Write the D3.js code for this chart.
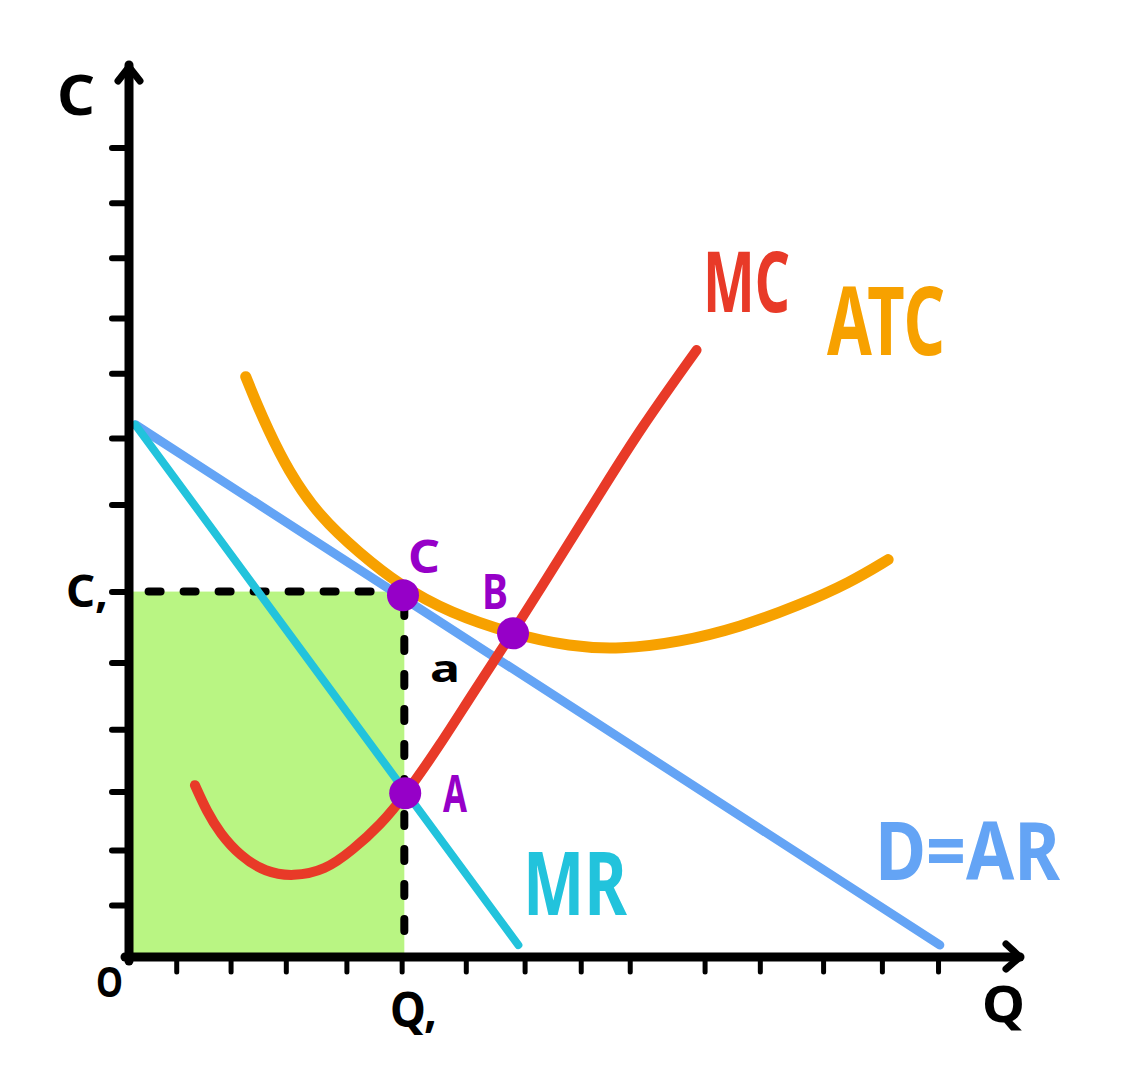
<!DOCTYPE html>
<html><head><meta charset="utf-8">
<script src="https://cdn.jsdelivr.net/npm/d3@7"></script>
<style>body{margin:0;background:#fff}</style>
</head><body>
<svg id="c" width="1130" height="1078"></svg>
<script>
// ---- data (units 0..100 on both axes) ----
const xTicks = [5.3, 11.4, 17.6, 24.4, 30.6, 37.8, 44.4, 50.7, 56.2, 64.6, 70.8, 77.9, 84.5, 90.8];
const yTicks = [5.4, 11.6, 18.2, 25.2, 32.7, 40.7, 50.5, 58.0, 65.3, 71.5, 78.3, 84.5, 90.7];
const Q1 = 30.9;
const C1 = 40.7;
const demandX = [0.7, 91.0];
const demandY = [59.5, 0.9];
const mrX = [0.7, 43.7];
const mrY = [59.5, 0.9];
const mcX = [7.4, 8.75, 10.2, 12.5, 15.3, 18.4, 22.0, 25.1, 28.2, 31.0, 34.9, 38.8, 43.1, 48.4, 52.9, 57.3, 63.7];
const mcY = [18.9, 15.9, 13.5, 10.9, 9.1, 8.6, 9.3, 11.6, 14.4, 17.8, 23.4, 29.6, 36.1, 44.6, 51.8, 58.9, 67.9];
const atcX = [13.1, 14.4, 15.5, 17.8, 21.4, 25.9, 30.4, 36.0, 43.1, 49.5, 55.1, 61.8, 68.6, 75.3, 80.9, 85.2];
const atcY = [64.9, 61.7, 59.2, 54.4, 49.1, 45.0, 41.4, 38.3, 35.9, 34.5, 34.2, 35.0, 36.7, 39.2, 41.7, 44.3];
const pointNames = ["C", "B", "A"];
const pointX = [30.75, 43.1, 31.0];
const pointY = [40.3, 36.0, 18.0];

// ---- drawing ----
const svg = d3.select("#c");
const x = d3.scaleLinear().domain([0, 100]).range([129, 1020]);
const y = d3.scaleLinear().domain([0, 100]).range([953, 65]);
const zip = (a, b) => a.map((v, i) => [v, b[i]]);
const line = d3.line().x(d => x(d[0])).y(d => y(d[1]));
const curve = d3.line().x(d => x(d[0])).y(d => y(d[1])).curve(d3.curveBasis);

const FONT = "'Noto Sans', sans-serif";
const COL = {green:"#b9f583", red:"#e83a28", orange:"#f7a100", cyan:"#22c3dc", blue:"#64a4f5", purple:"#9600c8"};

// green rectangle
svg.append("rect")
  .attr("x", x(0)).attr("y", y(C1))
  .attr("width", x(Q1) - x(0)).attr("height", y(0) + 4 - y(C1))
  .attr("fill", COL.green);

// dashed guides
const dash = {stroke:"#000", "stroke-width":8, "stroke-linecap":"round", "stroke-dasharray":"12,23", fill:"none"};
const hd = svg.append("path").attr("d", line([[2.2, C1], [pointX[0] - 1.3, C1]]));
const vd = svg.append("path").attr("d", line([[Q1, pointY[0] - 1.0], [Q1, 0]]));
[hd, vd].forEach(p => Object.entries(dash).forEach(([k, v]) => p.attr(k, v)));

// curves
function stroke(p, c, w) { return p.attr("fill", "none").attr("stroke", c).attr("stroke-width", w).attr("stroke-linecap", "round").attr("stroke-linejoin", "round"); }
stroke(svg.append("path").attr("d", line(zip(demandX, demandY))), COL.blue, 9);
stroke(svg.append("path").attr("d", line(zip(mrX, mrY))), COL.cyan, 8);
stroke(svg.append("path").attr("d", curve(zip(atcX, atcY))), COL.orange, 11);
stroke(svg.append("path").attr("d", curve(zip(mcX, mcY))), COL.red, 10);

// axes
const xa = svg.append("g").attr("transform", `translate(0,${y(0) + 4})`)
  .call(d3.axisBottom(x).tickValues(xTicks).tickFormat("").tickSizeInner(15).tickSizeOuter(0));
xa.select(".domain").attr("d", `M${x(0) - 4},0H${x(100)}`).attr("stroke-width", 9).attr("stroke-linecap", "round");
xa.selectAll(".tick line").attr("stroke-width", 5).attr("stroke-linecap", "round").attr("y1", 4);

const ya = svg.append("g").attr("transform", `translate(${x(0)},0)`)
  .call(d3.axisLeft(y).tickValues(yTicks).tickFormat("").tickSizeInner(17).tickSizeOuter(0));
ya.select(".domain").attr("d", `M0,${y(0) + 8}V${y(100)}`).attr("stroke-width", 9).attr("stroke-linecap", "round");
ya.selectAll(".tick line").attr("stroke-width", 6).attr("stroke-linecap", "round");

// arrow heads
const arrow = d3.line();
stroke(svg.append("path").attr("d", arrow([[x(0) - 11, y(100) + 16], [x(0), y(100) + 2], [x(0) + 11, y(100) + 16]])), "#000", 7);
stroke(svg.append("path").attr("d", arrow([[x(100) - 14, y(0) - 9], [x(100), y(0) + 4], [x(100) - 14, y(0) + 16]])), "#000", 7);

// intersection points
svg.selectAll("circle.pt").data(pointNames).join("circle")
  .attr("cx", (d, i) => x(pointX[i])).attr("cy", (d, i) => y(pointY[i]))
  .attr("r", 16).attr("fill", COL.purple);

// labels: fitted to hand-drawn size (left x, baseline, width, cap height)
function label(str, color, lx, base, w, h, lower) {
  const fs = h / (lower ? 0.536 : 0.714);
  svg.append("text").text(str)
    .attr("x", lx).attr("y", base)
    .attr("font-family", FONT).attr("font-weight", 700)
    .attr("font-size", fs)
    .attr("textLength", w).attr("lengthAdjust", "spacingAndGlyphs")
    .attr("fill", color);
}
label("C", "#000", 57, 115, 38, 40);
label("C,", "#000", 66, 607, 42, 32);
label("O", "#000", 96, 997, 27, 30);
label("Q,", "#000", 390, 1027, 47, 35);
label("Q", "#000", 982, 1022, 43, 36);
label("MC", COL.red, 703, 312, 87, 60);
label("ATC", COL.orange, 827, 355, 118, 68);
label("MR", COL.cyan, 523, 915, 104, 63);
label("D=AR", COL.blue, 875, 880, 185, 57);
label(pointNames[0], COL.purple, 408, 573, 32, 33);
label(pointNames[1], COL.purple, 482, 609, 26, 34);
label(pointNames[2], COL.purple, 443, 812, 24, 37);
label("a", "#000", 430, 682, 30, 20, true);
</script>
</body></html>
